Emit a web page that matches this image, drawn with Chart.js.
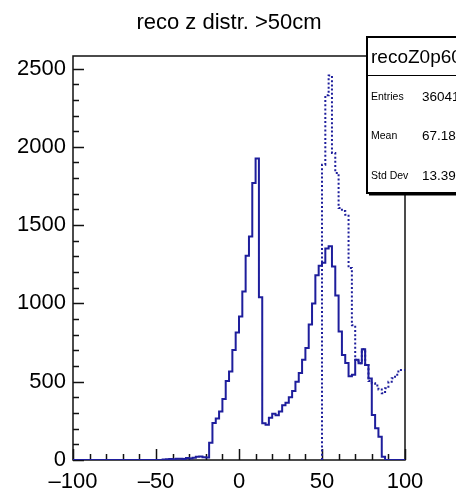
<!DOCTYPE html>
<html>
<head>
<meta charset="utf-8">
<script src="https://cdn.jsdelivr.net/npm/chart.js@4.4.1/dist/chart.umd.min.js"></script>
<style>
  html, body { margin: 0; padding: 0; background: #fff; }
  #wrap { width: 456px; height: 489px; position: relative; }
</style>
</head>
<body>
<div id="wrap"><canvas id="zChart"></canvas></div>
<script>
// binning: 100 bins of 2 cm between -100 and 100
const binWidth = 2;
const xMin = -100, xMax = 100;
const xTicks = [-100, -50, 0, 50, 100];
const yTicks = [0, 500, 1000, 1500, 2000, 2500];
const yMax = 2580;

// reco z, all tracks (solid), one value per bin from -100
const allCounts = [
  0, 0, 0, 0, 0, 0, 0, 0, 0, 0,
  0, 0, 0, 0, 0, 0, 0, 0, 0, 0,
  0, 0, 0, 0, 0, 0, 0, 0, 3, 5,
  6, 5, 8, 8, 7, 12, 10, 14, 20, 22,
  18, 16, 110, 236, 265, 309, 390, 505, 565, 703,
  814, 916, 1076, 1304, 1428, 1769, 1925, 1040, 235, 225,
  270, 295, 285, 310, 350, 365, 400, 440, 500, 555,
  640, 715, 865, 1000, 1180, 1240, 1260, 1350, 1365, 1236,
  1050, 820, 670, 620, 535, 545, 640, 618, 708, 607,
  520, 288, 202, 149, 21, 0, 0, 0, 0, 0
];

// recoZ0p60 (dotted), bins from 50 cm on
const cutFirstEdge = 50;
const cutCounts = [
  1620, 1886, 2330, 2455, 1961, 1833, 1609, 1590, 1566, 1226,
  860, 640, 618, 708, 607, 505, 490, 475, 450, 426,
  458, 500, 522, 545, 575
];

const statName = 'recoZ0p60';
const statLabels = ['Entries', 'Mean', 'Std Dev'];
const statValues = ['36041', '67.18', '13.39'];

const histColor = '#1e1e9c';
const fontFamily = "'Liberation Sans', Arial, sans-serif";

// step outline: a point at every lower bin edge, plus the upper edge of the last bin
function toSteps(firstEdge, counts) {
  const pts = counts.map((c, i) => ({ x: firstEdge + i * binWidth, y: c }));
  pts.push({ x: firstEdge + counts.length * binWidth, y: counts[counts.length - 1] });
  return pts;
}

const allPoints = toSteps(xMin, allCounts);
const cutPoints = [{ x: cutFirstEdge, y: 0 }].concat(toSteps(cutFirstEdge, cutCounts));

// ROOT-like frame with inward ticks, title and stats box
const rootFrame = {
  id: 'rootFrame',
  beforeDatasetsDraw(chart) {
    const { ctx, chartArea: a, scales: { x, y } } = chart;
    ctx.save();
    ctx.strokeStyle = '#111';
    ctx.lineWidth = 1.5;
    ctx.strokeRect(a.left, a.top, a.right - a.left, a.bottom - a.top);

    ctx.beginPath();
    for (let v = 0; v <= y.max; v += 100) {
      const py = Math.round(y.getPixelForValue(v)) + 0.5;
      const len = v % 500 === 0 ? 11 : 6;
      ctx.moveTo(a.left, py);
      ctx.lineTo(a.left + len, py);
    }
    for (let v = xMin; v <= xMax; v += 10) {
      const px = Math.round(x.getPixelForValue(v)) + 0.5;
      const len = v % 50 === 0 ? 11 : 6;
      ctx.moveTo(px, a.bottom);
      ctx.lineTo(px, a.bottom - len);
    }
    ctx.stroke();
    ctx.restore();
  },
  afterDraw(chart) {
    const { ctx } = chart;
    ctx.save();
    ctx.fillStyle = '#000';
    ctx.font = '22px ' + fontFamily;
    ctx.textAlign = 'center';
    ctx.textBaseline = 'alphabetic';
    ctx.fillText('reco z distr. >50cm', 229, 29);

    // stats box, runs past the right edge
    const bx = 367, by = 37, bw = 120, bh = 156;
    ctx.fillStyle = '#fff';
    ctx.fillRect(bx, by, bw, bh);
    ctx.fillStyle = '#000';
    ctx.fillRect(bx + 2, by + bh, bw, 2.5);
    ctx.strokeStyle = '#000';
    ctx.lineWidth = 2;
    ctx.strokeRect(bx, by, bw, bh);
    ctx.lineWidth = 1;
    ctx.beginPath();
    ctx.moveTo(bx, by + 38.5);
    ctx.lineTo(bx + bw, by + 38.5);
    ctx.stroke();

    ctx.textAlign = 'left';
    ctx.font = '19px ' + fontFamily;
    ctx.fillText(statName, 371, 63);
    ctx.textBaseline = 'middle';
    statLabels.forEach((lab, i) => {
      const ry = 97 + i * 39.5;
      ctx.font = '10.5px ' + fontFamily;
      ctx.fillText(lab, 371, ry);
      ctx.font = '13.5px ' + fontFamily;
      ctx.fillText(statValues[i], 422, ry);
    });
    ctx.restore();
  }
};

new Chart(document.getElementById('zChart'), {
  type: 'line',
  data: {
    datasets: [
      {
        label: 'reco z',
        data: allPoints,
        borderColor: histColor,
        borderWidth: 2,
        stepped: 'after',
        pointRadius: 0,
        fill: false
      },
      {
        label: statName,
        data: cutPoints,
        borderColor: histColor,
        borderWidth: 2,
        borderDash: [2, 2.2],
        stepped: 'after',
        pointRadius: 0,
        fill: false
      }
    ]
  },
  options: {
    responsive: true,
    maintainAspectRatio: false,
    animation: false,
    events: [],
    layout: { padding: { top: 56, right: 51, left: 0, bottom: 0 } },
    plugins: {
      legend: { display: false },
      title: { display: false },
      tooltip: { enabled: false }
    },
    scales: {
      x: {
        type: 'linear',
        min: xMin,
        max: xMax,
        grid: { display: false, drawTicks: false },
        border: { display: false },
        afterBuildTicks: s => { s.ticks = xTicks.map(v => ({ value: v })); },
        afterFit: s => { s.height = 29; },
        ticks: {
          padding: 9,
          color: '#000',
          font: { family: fontFamily, size: 22 },
          callback: v => String(v).replace('-', '\u2013')
        }
      },
      y: {
        min: 0,
        max: yMax,
        grid: { display: false, drawTicks: false },
        border: { display: false },
        afterBuildTicks: s => { s.ticks = yTicks.map(v => ({ value: v })); },
        afterFit: s => { s.width = 73; },
        ticks: {
          padding: 7,
          color: '#000',
          font: { family: fontFamily, size: 22 },
          callback: v => String(v)
        }
      }
    }
  },
  plugins: [rootFrame]
});
</script>
</body>
</html>
